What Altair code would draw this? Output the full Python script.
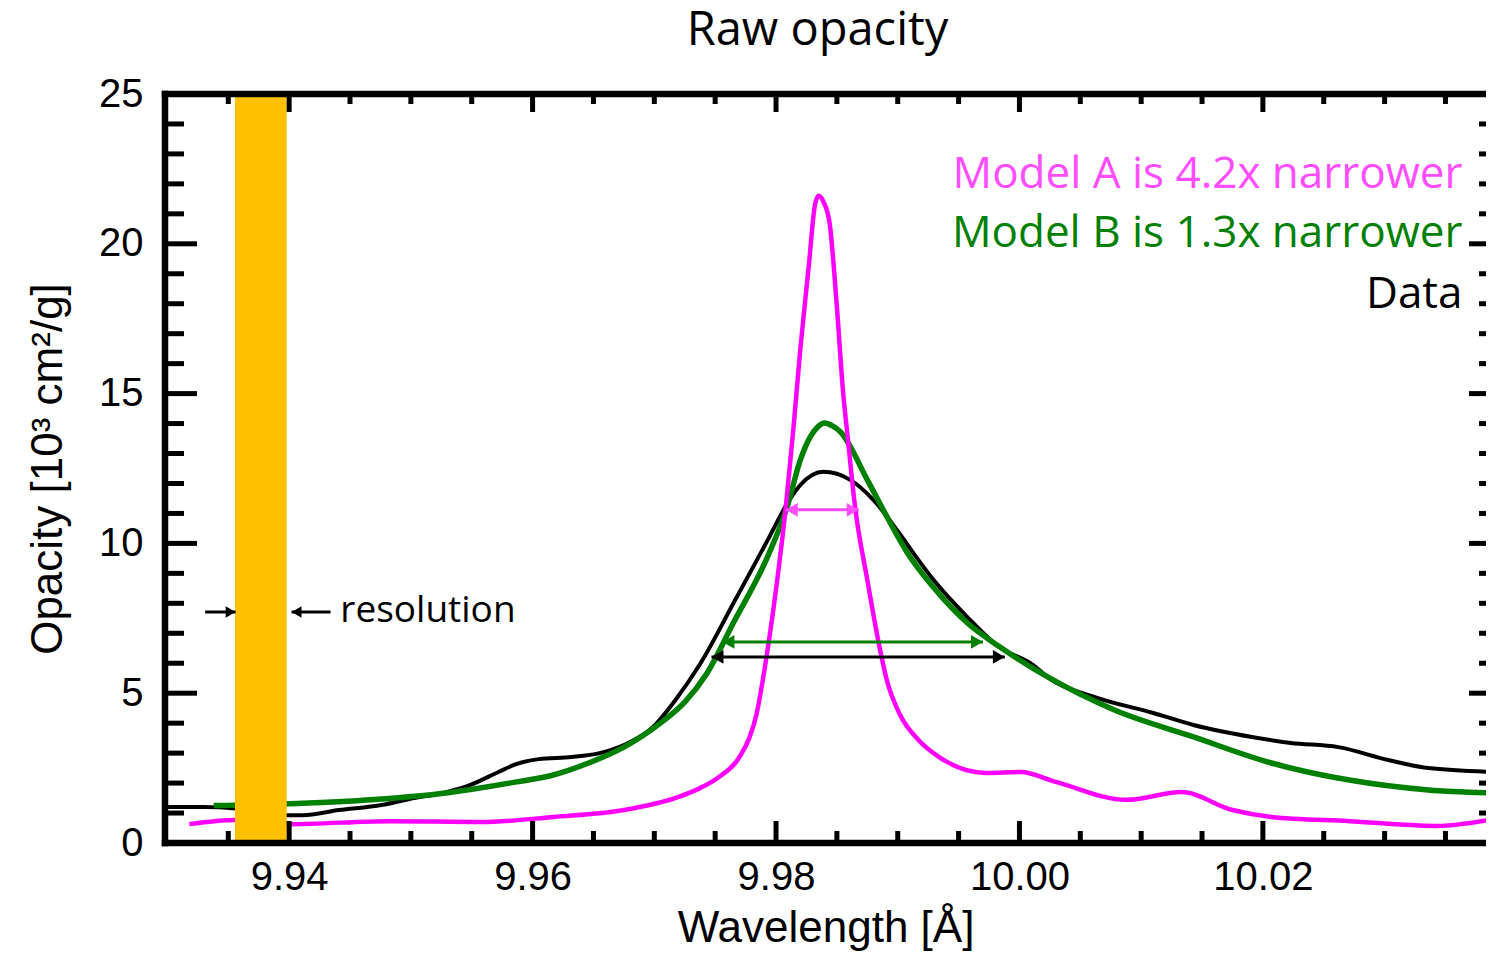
import altair as alt
import pandas as pd

# ---- data ----
black_w = [9.9298, 9.9330, 9.9356, 9.9380, 9.9398, 9.9411, 9.9441, 9.9476, 9.9499, 9.9529, 9.9549, 9.9572,
           9.9587, 9.9605, 9.9632, 9.9655, 9.9675, 9.9699, 9.9716, 9.9738, 9.9765, 9.9793, 9.9811, 9.9820,
           9.9839, 9.9861, 9.9880, 9.9902, 9.9916, 9.9929, 9.9957, 9.9983, 10.0011, 10.0023, 10.0062,
           10.0110, 10.0143, 10.0191, 10.0223, 10.0262, 10.0303, 10.0336, 10.0390]
black_v = [1.20, 1.20, 1.15, 1.02, 0.93, 0.93, 1.10, 1.27, 1.47, 1.70, 1.94, 2.37,
           2.64, 2.80, 2.87, 3.00, 3.27, 3.87, 4.70, 6.00, 8.00, 10.10, 11.45, 11.95,
           12.39, 12.12, 11.45, 10.30, 9.50, 8.80, 7.55, 6.55, 5.95, 5.54, 4.87,
           4.34, 3.94, 3.54, 3.34, 3.20, 2.77, 2.50, 2.37]

green_w = [9.9338, 9.9401, 9.9470, 9.9529, 9.9587, 9.9617, 9.9646, 9.9675, 9.9705, 9.9725, 9.9743,
           9.9765, 9.9793, 9.9809, 9.9820, 9.9828, 9.9834, 9.9840, 9.9846, 9.9853, 9.9875, 9.9891,
           9.9908, 9.9929, 9.9957, 9.9984, 10.0025, 10.0078, 10.0143, 10.0207, 10.0271, 10.0336, 10.0390]
green_v = [1.25, 1.31, 1.45, 1.67, 2.04, 2.27, 2.67, 3.20, 4.00, 4.70, 5.65,
           7.35, 9.55, 11.20, 12.79, 13.55, 13.88, 14.02, 13.93, 13.72, 12.12, 10.90,
           9.68, 8.55, 7.35, 6.54, 5.50, 4.44, 3.54, 2.67, 2.10, 1.77, 1.67]

mag_w = [9.9318, 9.9356, 9.9382, 9.9401, 9.9483, 9.9558, 9.9617, 9.9675, 9.9720, 9.9738, 9.9752,
         9.9770, 9.9778, 9.9784, 9.9789, 9.9794, 9.9801, 9.9808, 9.9814, 9.9820, 9.9827, 9.9832, 9.9835,
         9.9839, 9.9844, 9.9850, 9.9855, 9.9859, 9.9865, 9.9875, 9.9885, 9.9891, 9.9902, 9.9917,
         9.9934, 9.9972, 10.0001, 10.0030, 10.0088, 10.0133, 10.0175, 10.0207, 10.0271, 10.0342, 10.0390]
mag_v = [0.63, 0.77, 0.70, 0.63, 0.73, 0.70, 0.87, 1.10, 1.54, 1.84, 2.17,
         2.87, 3.50, 4.30, 5.40, 6.70, 8.78, 11.20, 13.70, 16.50, 19.30, 21.30, 21.60,
         21.40, 20.70, 17.90, 15.10, 13.50, 11.20, 8.78, 6.54, 5.44, 4.27, 3.44,
         2.87, 2.34, 2.37, 2.04, 1.44, 1.70, 1.10, 0.87, 0.73, 0.57, 0.80]

band_w = [9.93555, 9.9398]

arrow_names = ["Model A", "Model B", "Data"]
arrow_v = [11.12, 6.71, 6.21]
arrow_w1 = [9.9808, 9.9756, 9.9747]
arrow_w2 = [9.9868, 9.9970, 9.9988]
arrow_colors = ["#FF4DFF", "#008000", "#000000"]

legend_text = ["Model A is 4.2x narrower", "Model B is 1.3x narrower", "Data"]
legend_colors = ["#FF4DFF", "#008000", "#000000"]
legend_w = [10.0364, 10.0364, 10.0364]
legend_v = [21.85, 19.90, 17.85]

res_v = 7.71
res_right_arrow = [9.9331, 9.9356]
res_left_arrow = [9.9434, 9.9402]
res_text_w = 9.9442
res_text_v = 7.38

x_major = [9.94, 9.96, 9.98, 10.00, 10.02]
x_minor = [9.935, 9.945, 9.95, 9.955, 9.965, 9.97, 9.975, 9.985, 9.99, 9.995,
           10.005, 10.01, 10.015, 10.025, 10.03, 10.035]
y_major = [5, 10, 15, 20]
y_minor = [v for v in range(1, 25) if v % 5 != 0]
y_labels = [0, 5, 10, 15, 20, 25]

W, H = 1321, 749
XDOM = [9.9298, 10.03833]

xs = alt.Scale(domain=XDOM, nice=False, zero=False)
ys = alt.Scale(domain=[0, 25], nice=False, zero=True)

xaxis = alt.Axis(values=x_major, format=".2f", title="Wavelength [Å]", ticks=False, domain=False, grid=False,
                 labelFont="Liberation Sans", labelFontSize=40, labelColor="black", labelPadding=14,
                 labelFlush=False, titleFont="Liberation Sans", titleFontSize=44, titleFontWeight="normal",
                 titleColor="black", titlePadding=9)
yaxis = alt.Axis(values=y_labels, format="d", title="Opacity [10³ cm²/g]", ticks=False, domain=False, grid=False,
                 labelFont="Liberation Sans", labelFontSize=40, labelColor="black", labelPadding=22,
                 titleFont="Liberation Sans", titleFontSize=44, titleFontWeight="normal",
                 titleColor="black", titlePadding=28)

df_black = pd.DataFrame({"w": black_w, "v": black_v})
df_green = pd.DataFrame({"w": green_w, "v": green_v})
df_mag = pd.DataFrame({"w": mag_w, "v": mag_v})

black = alt.Chart(df_black).mark_line(color="black", strokeWidth=4, interpolate="monotone", clip=True).encode(
    x=alt.X("w:Q", scale=xs, axis=xaxis), y=alt.Y("v:Q", scale=ys, axis=yaxis))
green = alt.Chart(df_green).mark_line(color="#008000", strokeWidth=5.5, interpolate="monotone", clip=True).encode(
    x="w:Q", y="v:Q")
mag = alt.Chart(df_mag).mark_line(color="#FF00FF", strokeWidth=4.5, interpolate="monotone", clip=True).encode(
    x="w:Q", y="v:Q")

band = alt.Chart(pd.DataFrame({"w": [band_w[0]], "w2": [band_w[1]]})).mark_rect(color="#FFC000").encode(
    x="w:Q", x2="w2:Q", y=alt.value(0), y2=alt.value(H))

df_arrows = pd.DataFrame({"name": arrow_names, "v": arrow_v, "w": arrow_w1, "w2": arrow_w2, "c": arrow_colors})
shafts = alt.Chart(df_arrows).mark_rule(strokeWidth=3).encode(
    x="w:Q", x2="w2:Q", y="v:Q", color=alt.Color("c:N", scale=None))
heads_l = alt.Chart(df_arrows).mark_point(shape="triangle-left", filled=True, size=190, opacity=1, xOffset=6).encode(
    x="w:Q", y="v:Q", color=alt.Color("c:N", scale=None))
heads_r = alt.Chart(df_arrows).mark_point(shape="triangle-right", filled=True, size=190, opacity=1, xOffset=-6).encode(
    x="w2:Q", y="v:Q", color=alt.Color("c:N", scale=None))

df_res = pd.DataFrame({"w": [res_right_arrow[0], res_left_arrow[0]], "w2": [res_right_arrow[1], res_left_arrow[1]],
                       "v": [res_v, res_v]})
res_shafts = alt.Chart(df_res).mark_rule(strokeWidth=3, color="black").encode(x="w:Q", x2="w2:Q", y="v:Q")
res_head_r = alt.Chart(pd.DataFrame({"w": [res_right_arrow[1]], "v": [res_v]})).mark_point(
    shape="triangle-right", filled=True, size=130, opacity=1, color="black", xOffset=-5).encode(x="w:Q", y="v:Q")
res_head_l = alt.Chart(pd.DataFrame({"w": [res_left_arrow[1]], "v": [res_v]})).mark_point(
    shape="triangle-left", filled=True, size=130, opacity=1, color="black", xOffset=5).encode(x="w:Q", y="v:Q")
res_text = alt.Chart(pd.DataFrame({"w": [res_text_w], "v": [res_text_v], "t": ["resolution"]})).mark_text(
    align="left", baseline="alphabetic", font="Open Sans", fontSize=37, color="black").encode(
    x="w:Q", y="v:Q", text="t:N")

df_leg = pd.DataFrame({"w": legend_w, "v": legend_v, "t": legend_text, "c": legend_colors})
legend = alt.Chart(df_leg).mark_text(align="right", baseline="alphabetic", font="Open Sans", fontSize=44).encode(
    x="w:Q", y="v:Q", text="t:N", color=alt.Color("c:N", scale=None))

# inward ticks on all four sides
def xticks(vals, y0, y1):
    return alt.Chart(pd.DataFrame({"w": vals})).mark_rule(color="black", strokeWidth=5).encode(
        x="w:Q", y=alt.value(y0), y2=alt.value(y1))

def yticks(vals, x0, x1):
    return alt.Chart(pd.DataFrame({"v": vals})).mark_rule(color="black", strokeWidth=5).encode(
        y="v:Q", x=alt.value(x0), x2=alt.value(x1))

ticks = [
    xticks(x_major, H, H - 22), xticks(x_minor, H, H - 12),
    xticks(x_major, 0, 18), xticks(x_minor, 0, 10),
    yticks(y_major, 0, 32), yticks(y_minor, 0, 19),
    yticks(y_major, W, W - 17), yticks(y_minor, W, W - 7),
]

one = pd.DataFrame({"a": [0]})
frame_top = alt.Chart(one).mark_rule(color="black", strokeWidth=6.5, strokeCap="square").encode(
    x=alt.value(0), x2=alt.value(W), y=alt.value(0))
frame_bottom = alt.Chart(one).mark_rule(color="black", strokeWidth=6.5, strokeCap="square").encode(
    x=alt.value(0), x2=alt.value(W), y=alt.value(H))
frame_left = alt.Chart(one).mark_rule(color="black", strokeWidth=6.5, strokeCap="square").encode(
    x=alt.value(0), y=alt.value(0), y2=alt.value(H))

chart = alt.layer(
    black, green, mag, band, shafts, heads_l, heads_r,
    res_shafts, res_head_r, res_head_l, res_text, legend,
    *ticks, frame_top, frame_bottom, frame_left
).properties(
    width=W, height=H,
    title=alt.TitleParams("Raw opacity", font="Open Sans", fontSize=47, fontWeight="normal",
                          color="black", anchor="middle", offset=19, dx=-8),
    padding={"left": 157, "top": 86, "right": 0, "bottom": 108},
    autosize=alt.AutoSizeParams(type="none"),
).configure_view(stroke=None).configure(background="white")

chart.save("out.html", embed_options={"renderer": "svg", "actions": False})
